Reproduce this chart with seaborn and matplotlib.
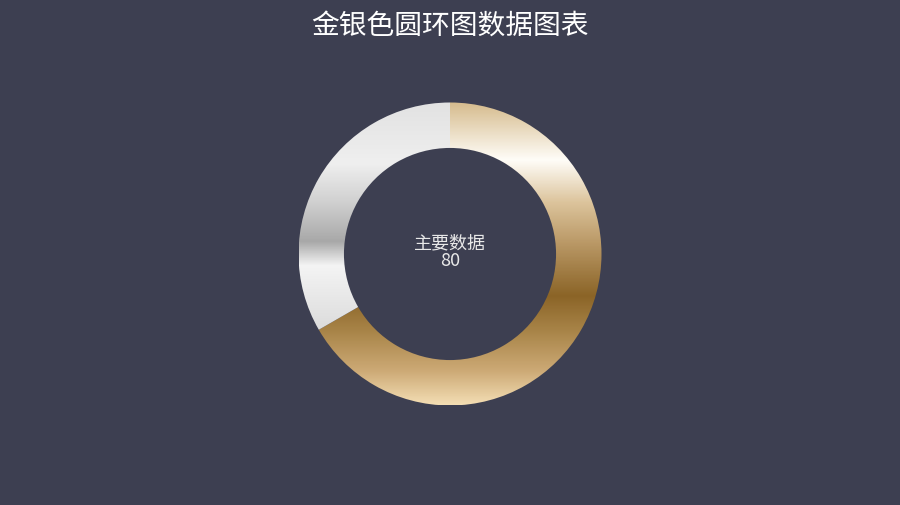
import numpy as np
import matplotlib
matplotlib.use('Agg')
import matplotlib.pyplot as plt
from matplotlib.colors import LinearSegmentedColormap
import seaborn as sns

BG_COLOR = '#3d3f51'

# data
segment_labels = ['主要数据', '次要数据']
segment_values = [80, 40]
title_text = '金银色圆环图数据图表'
center_label = '主要数据'
center_value = '80'

# vertical gradients (position from top of ring, colour)
gold_stops = [(0.0, '#d6bc8e'), (0.19, '#fffdf8'), (0.33, '#dcc49c'), (0.46, '#bb9a68'),
	(0.64, '#8b6427'), (0.76, '#a98549'), (0.89, '#cdaa76'), (1.0, '#f3ddb3')]
silver_stops = [(0.0, '#e2e2e2'), (0.2, '#efefef'), (0.33, '#d0d0d0'), (0.46, '#a8a8a8'),
	(0.54, '#f4f4f4'), (0.75, '#dcdcdc'), (1.0, '#d8d8d8')]

sns.set_theme(style='dark', rc={'figure.facecolor': BG_COLOR, 'axes.facecolor': BG_COLOR})
plt.rcParams['font.family'] = ['Noto Sans CJK SC', 'DejaVu Sans']

fig = plt.figure(figsize=(9, 5.06), dpi=100)
ax = fig.add_axes([0, 0, 1, 1])
ax.set_facecolor(BG_COLOR)

wedges, _ = ax.pie(segment_values, startangle=90, counterclock=False, radius=1,
	wedgeprops=dict(width=0.30, edgecolor='none'))

grad = np.linspace(0, 1, 600).reshape(-1, 1)
for wedge, stops in zip(wedges, [gold_stops, silver_stops]):
	cmap = LinearSegmentedColormap.from_list('ring', stops)
	wedge.set_facecolor('none')
	im = ax.imshow(grad, cmap=cmap, extent=(-1, 1, -1, 1), origin='upper',
		aspect='auto', interpolation='bilinear', zorder=1)
	im.set_clip_path(wedge)

px = 151.5  # pixels per data unit
ax.set_xlim(-450 / px, 450 / px)
ax.set_ylim(-251 / px, 255 / px)
ax.set_aspect('equal')
ax.axis('off')

ax.text(0, (253 - 241) / px, center_label, ha='center', va='center',
	fontsize=13, color='#e8e8e8', zorder=3)
ax.text(0, (253 - 259.5) / px, center_value, ha='center', va='center',
	fontsize=13, color='#e8e8e8', zorder=3)

fig.text(0.5, 1 - 26 / 506, title_text, ha='center', va='center',
	fontsize=20, color='white')

fig.savefig('out.png', dpi=100, facecolor=BG_COLOR)
